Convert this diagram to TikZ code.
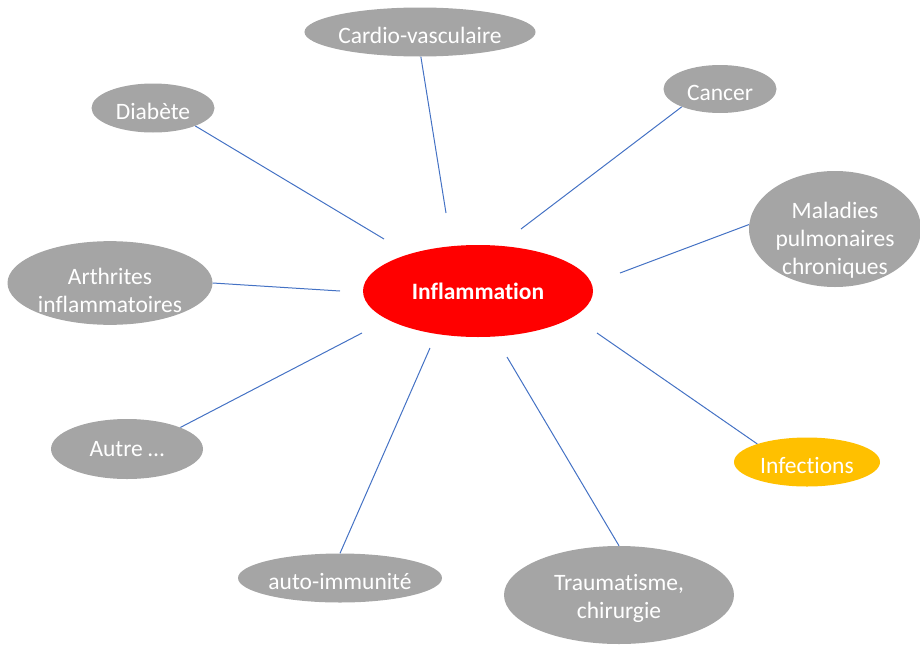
\documentclass[tikz,border=0pt]{standalone}
\usepackage{fontspec}
\setmainfont{Carlito}[Ligatures=NoCommon]
\usetikzlibrary{shapes.geometric}

\definecolor{grisnoeud}{HTML}{A5A5A5}
\definecolor{rougecentre}{HTML}{FF0000}
\definecolor{jauneinf}{HTML}{FFC000}
\definecolor{bleulien}{HTML}{4472C4}

\begin{document}
\begin{tikzpicture}[x=1pt, y=-1pt]
  % Styles
  \tikzstyle{cause}=[ellipse, fill=grisnoeud, text=white, inner sep=0pt, align=center, font=\fontsize{23.5}{28}\selectfont]
  \tikzstyle{uneligne}=[text height=23pt, text depth=0pt]
  \tikzstyle{centre}=[ellipse, fill=rougecentre, text=white, inner sep=0pt, align=center, font=\fontsize{23.5}{28}\selectfont\bfseries]
  \tikzstyle{lien}=[bleulien, line width=1pt]

  \useasboundingbox (0,0) rectangle (920,645);

  % Noeud central
  \node[centre, minimum width=230, minimum height=92] (infl) at (478,291) {Inflammation};

  % Causes
  \node[cause, uneligne, minimum width=227, minimum height=49] (cardio) at (420,32) {Cardio-vasculaire};
  \node[cause, uneligne, minimum width=123, minimum height=49] (diabete) at (153,108) {Diabète};
  \node[cause, uneligne, minimum width=113, minimum height=48] (cancer) at (720,89) {Cancer};
  \node[cause, text height=95pt, inner ysep=-20pt, minimum width=172, minimum height=116] (poumon) at (835,229) {Maladies\\pulmonaires\\chroniques};
  \node[cause, text height=59pt, minimum width=205, minimum height=81] (arthrite) at (110,283) {Arthrites\\inflammatoires};
  \node[cause, minimum width=152, minimum height=60] (autre) at (127,449) {Autre \dots};
  \node[cause, uneligne, minimum width=204, minimum height=49] (autoimm) at (340,578) {auto-immunité};
  \node[cause, text height=51pt, minimum width=230, minimum height=98] (trauma) at (619,595) {Traumatisme,\\chirurgie};
  \node[cause, uneligne, fill=jauneinf, minimum width=146, minimum height=49] (infect) at (807,462) {Infections};

  % Extremites des liens cote centre
  \coordinate (cardioin) at (446,213);
  \coordinate (diabetein) at (384,239);
  \coordinate (cancerin) at (521,229);
  \coordinate (poumonin) at (620,273);
  \coordinate (arthritein) at (340,291);
  \coordinate (autrein) at (362,333);
  \coordinate (autoimmin) at (430,348);
  \coordinate (traumain) at (507,357);
  \coordinate (infectin) at (597,333);

  % Liens
  \draw[lien] (cardio.-88) -- (cardioin);
  \draw[lien] (diabete.-23) -- (diabetein);
  \draw[lien] (cancer.-155) -- (cancerin);
  \draw[lien] (poumon.177) -- (poumonin);
  \draw[lien] (arthrite.0) -- (arthritein);
  \draw[lien] (autre.22) -- (autrein);
  \draw[lien] (autoimm.90) -- (autoimmin);
  \draw[lien] (trauma.90) -- (traumain);
  \draw[lien] (infect.160) -- (infectin);
\end{tikzpicture}
\end{document}
